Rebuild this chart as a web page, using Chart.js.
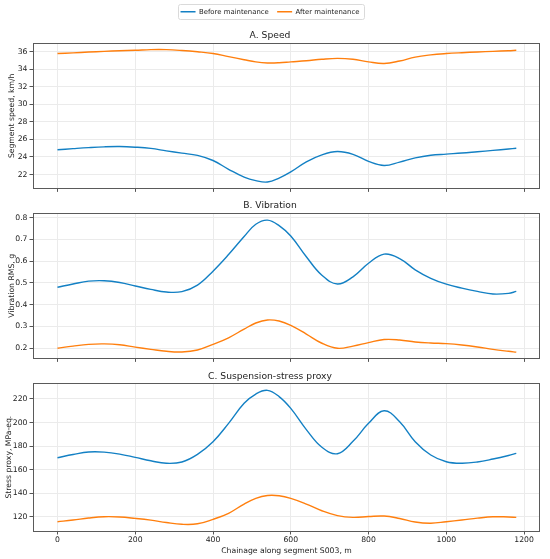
<!DOCTYPE html>
<html><head><meta charset="utf-8">
<script src="https://cdn.jsdelivr.net/npm/chart.js@4/dist/chart.umd.min.js"></script>
<style>
html,body{margin:0;padding:0;background:#fff;}
#wrap{position:relative;width:550px;height:559px;background:#fff;}
.p{position:absolute;left:0;width:550px;}
</style></head><body>
<div id="wrap">
<div class="p" style="top:0;height:195px"><canvas id="c1"></canvas></div>
<div class="p" style="top:192px;height:173px"><canvas id="c2"></canvas></div>
<div class="p" style="top:365px;height:194px"><canvas id="c3"></canvas></div>
</div>
<script>
// ---- data ----
const chainage = [0,40,80,120,160,200,240,280,320,360,400,440,480,510,540,570,600,640,680,720,760,800,840,880,920,960,1000,1040,1080,1120,1160,1180];
const seriesNames = ['Before maintenance','After maintenance'];
const speedBefore = [24.82,24.95,25.07,25.16,25.19,25.12,24.98,24.7,24.44,24.18,23.6,22.6,21.7,21.3,21.15,21.6,22.3,23.45,24.25,24.62,24.3,23.5,23.03,23.42,23.9,24.2,24.33,24.45,24.6,24.75,24.92,25.0];
const speedAfter = [35.8,35.88,35.97,36.05,36.12,36.17,36.25,36.25,36.15,36.0,35.8,35.45,35.1,34.85,34.73,34.75,34.85,34.98,35.15,35.25,35.15,34.85,34.67,34.95,35.4,35.65,35.8,35.9,35.98,36.05,36.12,36.17];
const vibBefore = [0.48,0.495,0.508,0.51,0.502,0.486,0.47,0.458,0.46,0.49,0.554,0.63,0.713,0.769,0.788,0.763,0.715,0.62,0.535,0.495,0.528,0.59,0.632,0.612,0.56,0.521,0.494,0.476,0.461,0.449,0.452,0.461];
const vibAfter = [0.20,0.21,0.218,0.22,0.216,0.205,0.195,0.186,0.183,0.192,0.218,0.248,0.288,0.316,0.33,0.325,0.305,0.265,0.223,0.2,0.21,0.226,0.24,0.238,0.229,0.224,0.221,0.215,0.206,0.195,0.186,0.182];
const stressBefore = [170.1,172.8,175.0,174.9,173.2,170.4,167.5,165.4,166.5,173,183.7,199.3,216.3,224.2,227.3,222,212,194,179,173.5,184,199.3,210,200.7,183.7,172.4,166.7,165.4,166.5,169,172,173.8];
const stressAfter = [115.8,117.2,118.9,120.0,119.8,118.6,117.1,115.1,113.6,114,117.8,122.9,130.8,135.6,138,137.8,135.6,130.8,125.1,121,119.5,120.2,120.6,118.5,115.5,114.5,115.8,117.2,118.8,120,119.8,119.5];

const xTicks = [0,200,400,600,800,1000,1200];
const xTickLabels = ['0','200','400','600','800','1000','1200'];
const speedTicks = [22,24,26,28,30,32,34,36];
const speedTickLabels = ['22','24','26','28','30','32','34','36'];
const vibTicks = [0.2,0.3,0.4,0.5,0.6,0.7,0.8];
const vibTickLabels = ['0.2','0.3','0.4','0.5','0.6','0.7','0.8'];
const stressTicks = [120,140,160,180,200,220];
const stressTickLabels = ['120','140','160','180','200','220'];

const panelTitles = ['A. Speed','B. Vibration','C. Suspension-stress proxy'];
const yTitles = ['Segment speed, km/h','Vibration RMS, g','Stress proxy, MPa-eq.'];
const xTitle = 'Chainage along segment S003, m';

// ---- style ----
const FAM = "'DejaVu Sans', sans-serif";
const BLUE = '#1380c4', ORANGE = '#ff7f0e';
const TXT = '#222';

const framePlugin = {
  id: 'frame',
  afterDraw(chart) {
    const a = chart.chartArea, ctx = chart.ctx;
    ctx.save();
    ctx.strokeStyle = '#5a5a5a';
    ctx.lineWidth = 1;
    ctx.strokeRect(Math.round(a.left) + 0.5, Math.round(a.top) + 0.5,
                   Math.round(a.right - a.left) - 1, Math.round(a.bottom - a.top));
    ctx.restore();
  }
};
const legendFramePlugin = {
  id: 'legendFrame',
  afterDraw(chart) {
    const lg = chart.legend;
    if (!lg || !lg.options.display || !lg.legendHitBoxes.length) return;
    const hb = lg.legendHitBoxes;
    const first = hb[0], last = hb[hb.length - 1];
    const l = first.left - 3, r = last.left + last.width + 4;
    const t = first.top - 4.2, h = first.height + 8.4;
    const ctx = chart.ctx;
    ctx.save();
    ctx.strokeStyle = '#d6d6d6';
    ctx.lineWidth = 0.9;
    ctx.beginPath();
    ctx.roundRect(Math.round(l) + 0.5, Math.round(t) + 0.5, Math.round(r - l), Math.round(h), 2);
    ctx.stroke();
    ctx.restore();
  }
};

function makeDataset(label, ys, color) {
  return {
    label: label,
    data: chainage.map((x, i) => ({ x: x, y: ys[i] })),
    borderColor: color,
    backgroundColor: color,
    borderWidth: 1.4,
    pointRadius: 0,
    tension: 0.4,
    fill: false
  };
}

function panel(id, cfg) {
  const tickFont = { family: FAM, size: 7.7 };
  const grid = { color: '#ebebeb', lineWidth: 1, tickColor: '#555', tickLength: 3.5, tickWidth: 1, drawTicks: true };
  return new Chart(document.getElementById(id), {
    type: 'line',
    data: { datasets: [makeDataset(seriesNames[0], cfg.before, BLUE), makeDataset(seriesNames[1], cfg.after, ORANGE)] },
    options: {
      responsive: true, maintainAspectRatio: false, animation: false,
      layout: { padding: { left: 0, right: 10, top: 0, bottom: 0 } },
      plugins: {
        legend: cfg.legend ? {
          display: true, position: 'top', weight: 5000,
          labels: { usePointStyle: true, pointStyle: 'line', pointStyleWidth: 15, boxHeight: 6.9,
                    padding: 8.3, color: TXT, font: { family: FAM, size: 6.9 } }
        } : { display: false },
        title: { display: true, text: cfg.title, color: TXT, font: { family: FAM, size: 9.2, weight: 'normal' },
                 padding: { top: cfg.tT, bottom: cfg.tB }, weight: 100 },
        tooltip: { enabled: false }
      },
      scales: {
        x: {
          type: 'linear', min: -63, max: 1241,
          afterBuildTicks: s => { s.ticks = xTicks.map(v => ({ value: v })); },
          afterFit: s => { s.height = cfg.xH; },
          ticks: { display: cfg.xLabels, color: TXT, font: tickFont, padding: 0.9, maxRotation: 0, autoSkip: false,
                   callback: (v, i) => xTickLabels[i] },
          grid: grid,
          border: { display: false },
          title: { display: cfg.xLabels, text: xTitle, color: TXT, font: { family: FAM, size: 7.7 }, padding: { top: 0, bottom: 3.4 } }
        },
        y: {
          type: 'linear', min: cfg.yMin, max: cfg.yMax,
          afterBuildTicks: s => { s.ticks = cfg.yTicks.map(v => ({ value: v })); },
          afterFit: s => { s.width = 33; },
          ticks: { color: TXT, font: tickFont, padding: 2, autoSkip: false, callback: (v, i) => cfg.yLabels[i] },
          grid: grid,
          border: { display: false },
          title: { display: true, text: cfg.yTitle, color: TXT, font: { family: FAM, size: 7.7 }, padding: { top: cfg.yTP, bottom: 0 } }
        }
      }
    },
    plugins: cfg.legend ? [framePlugin, legendFramePlugin] : [framePlugin]
  });
}

panel('c1', { before: speedBefore, after: speedAfter, legend: true, title: panelTitles[0], tT: 5.3, tB: 1.76,
  xH: 5, xLabels: false, yMin: 20.42, yMax: 36.97, yTicks: speedTicks, yLabels: speedTickLabels, yTitle: yTitles[0], yTP: 7.6 });
panel('c2', { before: vibBefore, after: vibAfter, legend: false, title: panelTitles[1], tT: 8.5, tB: 1.76,
  xH: 5, xLabels: false, yMin: 0.1535, yMax: 0.8195, yTicks: vibTicks, yLabels: vibTickLabels, yTitle: yTitles[1], yTP: 7.4 });
panel('c3', { before: stressBefore, after: stressAfter, legend: false, title: panelTitles[2], tT: 6.5, tB: 0.76,
  xH: 28, xLabels: true, yMin: 107.9, yMax: 233.3, yTicks: stressTicks, yLabels: stressTickLabels, yTitle: yTitles[2], yTP: 4.2 });
</script>
</body></html>
